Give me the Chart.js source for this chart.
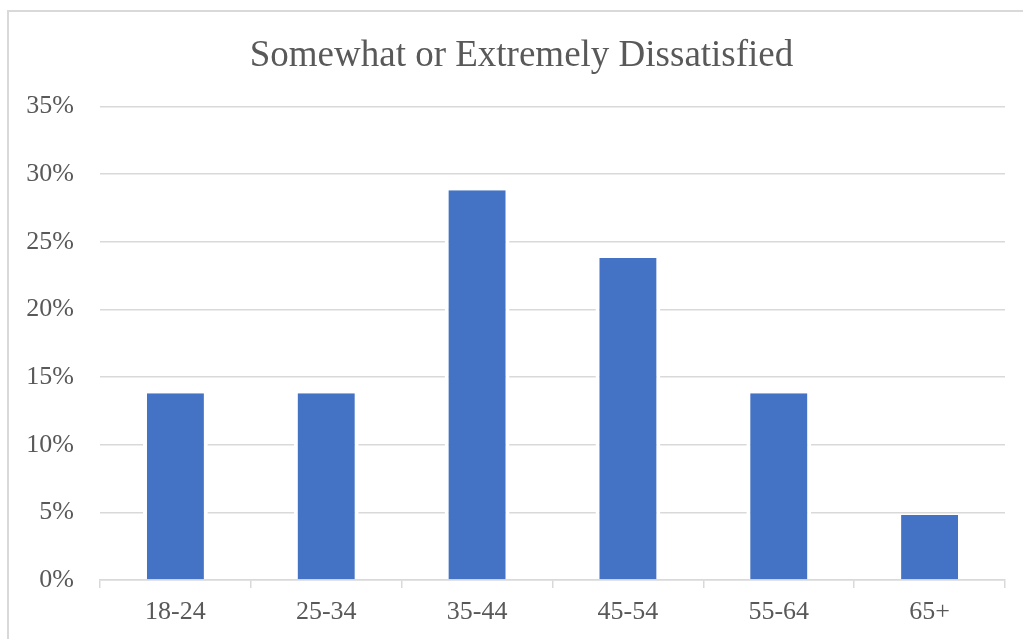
<!DOCTYPE html>
<html>
<head>
<meta charset="utf-8">
<script src="https://cdn.jsdelivr.net/npm/chart.js@4.4.1/dist/chart.umd.min.js"></script>
<style>
  html, body { margin: 0; padding: 0; background: #fff; overflow: hidden; }
  #frame { position: absolute; left: 7px; top: 10px; width: 1100px; height: 700px;
           border: 2px solid #d9d9d9; box-sizing: border-box; }
  #wrap { position: absolute; left: 0; top: 0; width: 1023px; height: 639px; }
</style>
</head>
<body>
<div id="frame"></div>
<div id="wrap"><canvas id="c"></canvas></div>
<script>
const chartTitle = 'Somewhat or Extremely Dissatisfied';
const ageGroups = ['18-24', '25-34', '35-44', '45-54', '55-64', '65+'];
const dissatisfiedPct = [13.8, 13.8, 28.8, 23.8, 13.8, 4.8];
const yTicks = [0, 5, 10, 15, 20, 25, 30, 35];

const serif = "'Liberation Serif', 'Times New Roman', serif";
const textGray = '#595959';
const lineGray = '#d9d9d9';

new Chart(document.getElementById('c'), {
  type: 'bar',
  data: {
    labels: ageGroups,
    datasets: [{
      data: dissatisfiedPct,
      backgroundColor: '#4472c4',
      borderColor: '#ffffff',
      borderWidth: { left: 4, right: 4, top: 0, bottom: 0 },
      borderSkipped: 'start',
      barPercentage: 0.43,
      categoryPercentage: 1
    }]
  },
  options: {
    responsive: true,
    maintainAspectRatio: false,
    animation: false,
    layout: { padding: { left: 20, right: 0, top: 0, bottom: 0 } },
    plugins: {
      legend: { display: false },
      tooltip: { enabled: false },
      title: {
        display: true,
        text: chartTitle,
        color: textGray,
        font: { family: serif, size: 37, weight: 'normal' },
        padding: { top: 34, bottom: 28 }
      }
    },
    scales: {
      x: {
        grid: { drawOnChartArea: false, drawTicks: true, tickLength: 8, color: lineGray, lineWidth: 1.5, offset: true },
        border: { display: true, color: lineGray, width: 1.5 },
        ticks: { color: textGray, font: { family: serif, size: 26 }, padding: 9, maxRotation: 0 },
        afterFit: s => { s.height = 59; }
      },
      y: {
        min: 0,
        max: 35,
        afterBuildTicks: s => { s.ticks = yTicks.map(v => ({ value: v })); },
        grid: { drawTicks: false, color: lineGray, lineWidth: 1.5 },
        border: { display: false },
        ticks: { color: textGray, font: { family: serif, size: 26 }, padding: 26, callback: v => v + '%' },
        afterFit: s => { s.width = 80; }
      },
      // empty right-hand margin axis
      yRight: {
        position: 'right',
        display: true,
        grid: { display: false, drawTicks: false },
        border: { display: false },
        ticks: { display: false },
        afterFit: s => { s.width = 18; }
      }
    }
  }
});
</script>
</body>
</html>
